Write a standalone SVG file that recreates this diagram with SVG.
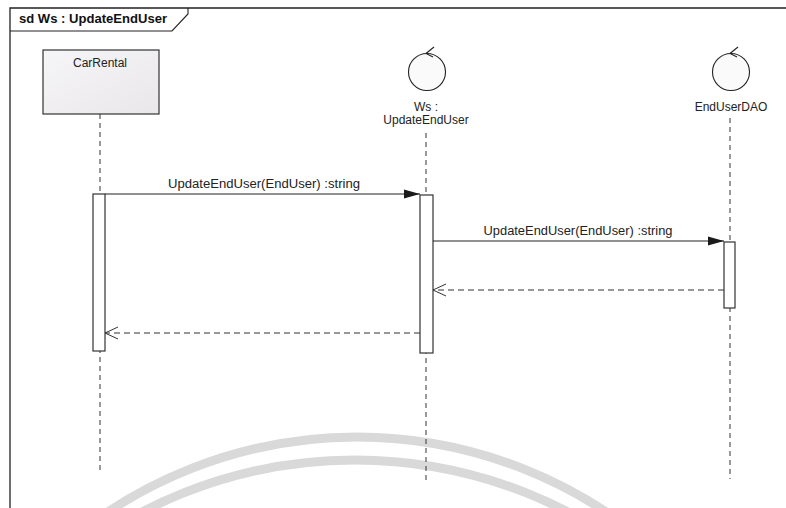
<svg xmlns="http://www.w3.org/2000/svg" width="786" height="508" viewBox="0 0 786 508">
<defs>
<linearGradient id="boxfill" x1="0" y1="0" x2="1" y2="1">
<stop offset="0" stop-color="#f6f5f7"/>
<stop offset="1" stop-color="#e9e7ea"/>
</linearGradient>
<marker id="filled" viewBox="0 0 16 10" refX="16" refY="5" markerWidth="16" markerHeight="10" markerUnits="userSpaceOnUse" orient="auto">
<path d="M0,0.5 L16,5 L0,9.5 Z" fill="#1a1a1a"/>
</marker>
<marker id="open" viewBox="0 0 15 14" refX="14" refY="7" markerWidth="15" markerHeight="14" markerUnits="userSpaceOnUse" orient="auto">
<path d="M1,1 L14,7 L1,13" fill="none" stroke="#333" stroke-width="1"/>
</marker>
</defs>
<style>
.t{font-family:"Liberation Sans",Arial,sans-serif;font-size:12px;fill:#222;}
.title{font-family:"Liberation Sans",Arial,sans-serif;font-size:12.5px;font-weight:bold;fill:#111;}
.life{stroke:#333;stroke-width:1;stroke-dasharray:5,4;fill:none;}
.act{fill:#fff;stroke:#333;stroke-width:1.2;}
.msg{stroke:#222;stroke-width:1.2;fill:none;}
.ret{stroke:#333;stroke-width:1.1;stroke-dasharray:6,4;fill:none;}
.ctl{fill:#fafafa;stroke:#222;stroke-width:1.1;}
.wm{fill:none;stroke:#d9d9d9;stroke-width:9;}
</style>
<rect width="786" height="508" fill="#fff"/>
<g id="watermark">
<circle class="wm" cx="357" cy="888" r="451"/>
<circle class="wm" cx="355" cy="922" r="462"/>
</g>
<g id="frame">
<path d="M10,508 L10,8 L786,8" fill="none" stroke="#222" stroke-width="1.3"/>
<path d="M10,31 L172,31 L188,14 L188,8" fill="none" stroke="#222" stroke-width="1.1"/>
<text class="title" x="19" y="23" textLength="148" lengthAdjust="spacingAndGlyphs">sd Ws : UpdateEndUser</text>
</g>
<g id="carrental">
<rect x="43" y="50" width="116" height="64" fill="url(#boxfill)" stroke="#333" stroke-width="1.2"/>
<text class="t" x="100" y="67" text-anchor="middle">CarRental</text>
<line class="life" x1="100" y1="114" x2="100" y2="474"/>
<rect class="act" x="93" y="194" width="12" height="157"/>
</g>
<g id="ws">
<circle class="ctl" cx="427" cy="72" r="18.5"/>
<path d="M434,47 L426,53.5 L433,57" fill="none" stroke="#222" stroke-width="1.1"/>
<text class="t" x="426" y="111" text-anchor="middle">Ws :</text>
<text class="t" x="426" y="124" text-anchor="middle">UpdateEndUser</text>
<line class="life" x1="426" y1="133" x2="426" y2="481"/>
<rect class="act" x="420" y="195" width="13" height="158"/>
</g>
<g id="enduserdao">
<circle class="ctl" cx="731" cy="72" r="18.5"/>
<path d="M738,47 L730,53.5 L737,57" fill="none" stroke="#222" stroke-width="1.1"/>
<text class="t" x="731" y="111" text-anchor="middle">EndUserDAO</text>
<line class="life" x1="730" y1="118" x2="730" y2="479"/>
<rect class="act" x="724" y="242" width="11" height="66"/>
</g>
<g id="connectors">
<line class="msg" x1="105" y1="194" x2="420" y2="194" marker-end="url(#filled)"/>
<text class="t" x="264" y="188" text-anchor="middle" textLength="192" lengthAdjust="spacingAndGlyphs">UpdateEndUser(EndUser) :string</text>
<line class="msg" x1="433" y1="241" x2="724" y2="241" marker-end="url(#filled)"/>
<text class="t" x="578" y="235" text-anchor="middle" textLength="189" lengthAdjust="spacingAndGlyphs">UpdateEndUser(EndUser) :string</text>
<line class="ret" x1="724" y1="290" x2="433" y2="290" marker-end="url(#open)"/>
<line class="ret" x1="420" y1="333" x2="105" y2="333" marker-end="url(#open)"/>
</g>
</svg>
